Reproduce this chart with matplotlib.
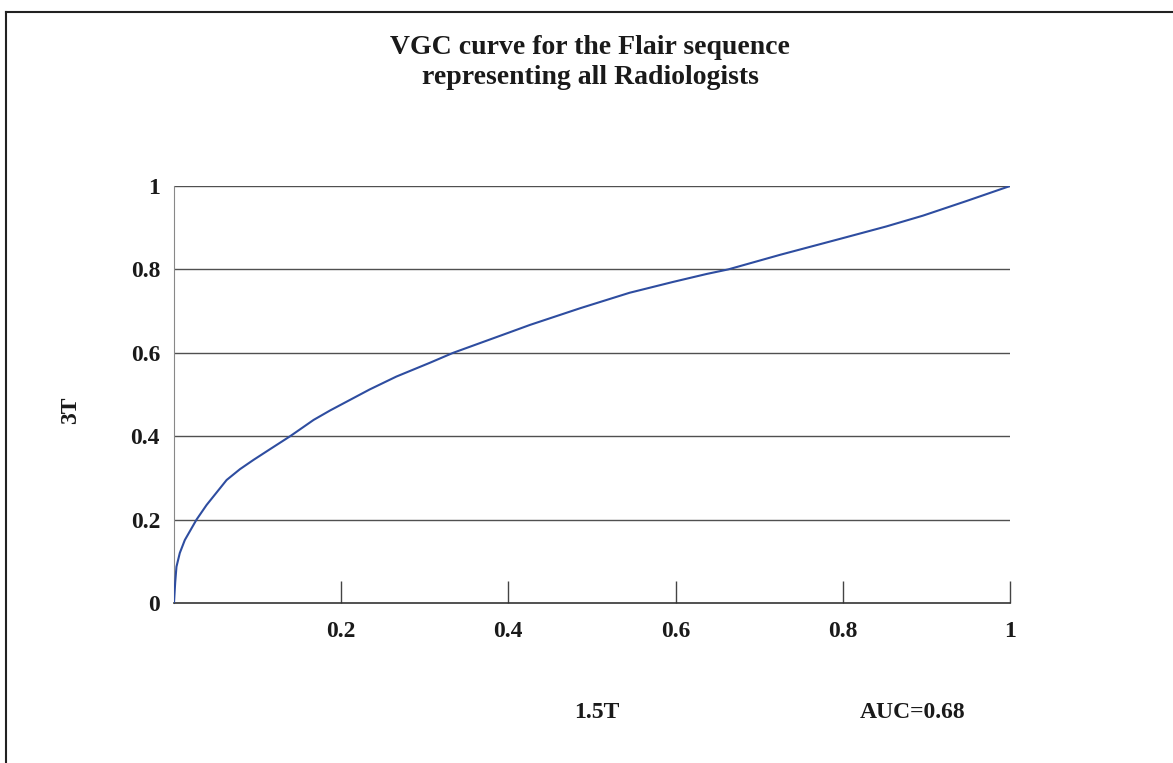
import matplotlib.pyplot as plt
from matplotlib.lines import Line2D

# VGC curve (x = 1.5T, y = 3T)
vgc_x = [0, 0.0015, 0.003, 0.007, 0.013, 0.027, 0.039, 0.047, 0.063, 0.079,
         0.095, 0.115, 0.139, 0.167, 0.187, 0.234, 0.266, 0.306, 0.334, 0.400,
         0.426, 0.486, 0.545, 0.597, 0.637, 0.663, 0.725, 0.800, 0.852, 0.896,
         0.948, 1.0]
vgc_y = [0, 0.05, 0.087, 0.12, 0.151, 0.2, 0.235, 0.255, 0.295, 0.321,
         0.343, 0.369, 0.4, 0.439, 0.462, 0.512, 0.543, 0.576, 0.600, 0.648,
         0.667, 0.707, 0.744, 0.770, 0.789, 0.800, 0.835, 0.875, 0.903, 0.929,
         0.964, 1.0]

x_ticks = [0.2, 0.4, 0.6, 0.8, 1.0]
x_labels = ['0.2', '0.4', '0.6', '0.8', '1']
y_ticks = [0, 0.2, 0.4, 0.6, 0.8, 1.0]
y_labels = ['0', '0.2', '0.4', '0.6', '0.8', '1']

title = 'VGC curve for the Flair sequence\nrepresenting all Radiologists'
auc_text = 'AUC=0.68'

plt.rcParams['font.family'] = ['Liberation Serif', 'DejaVu Serif']
plt.rcParams['font.weight'] = 'bold'

fig = plt.figure(figsize=(11.73, 7.63), dpi=100)
ax = fig.add_axes([0.1483, 0.2097, 0.8610 - 0.1483, 0.7562 - 0.2097])

ax.plot(vgc_x, vgc_y, color='#2e4da0', lw=1.5, zorder=3)

ax.set_xlim(0, 1)
ax.set_ylim(0, 1)
for v in y_ticks[1:]:
    ax.axhline(v, color='#505050', lw=1.0, zorder=1)

ax.set_xticks(x_ticks)
ax.set_xticklabels(x_labels)
ax.set_yticks(y_ticks)
ax.set_yticklabels(y_labels)
ax.tick_params(axis='x', direction='in', length=16, width=1.0, color='#444444',
               pad=13, labelsize=17)
ax.tick_params(axis='y', length=0, pad=10, labelsize=17)
for lab in ax.get_xticklabels() + ax.get_yticklabels():
    lab.set_fontweight('bold')
    lab.set_color('#1a1a1a')

ax.spines['top'].set_visible(False)
ax.spines['right'].set_visible(False)
ax.spines['left'].set_color('#888888')
ax.spines['bottom'].set_color('#333333')
ax.spines['bottom'].set_linewidth(1.2)

fig.text(0.503, 0.918, title, ha='center', va='center', fontsize=20,
         fontweight='bold', color='#1a1a1a', linespacing=1.3)
fig.text(0.06, 0.462, '3T', rotation=90, ha='center', va='center',
         fontsize=17, fontweight='bold', color='#1a1a1a')
fig.text(0.509, 0.066, '1.5T', ha='center', va='center', fontsize=17,
         fontweight='bold', color='#1a1a1a')
fig.text(0.778, 0.066, auc_text, ha='center', va='center', fontsize=17,
         fontweight='bold', color='#1a1a1a')

# outer frame (top and left edges visible in the reference)
fig.add_artist(Line2D([0.0055, 1.0], [1 - 11.5 / 763, 1 - 11.5 / 763],
                      transform=fig.transFigure, color='#222222', lw=1.5))
fig.add_artist(Line2D([0.0055, 0.0055], [0, 1 - 11.5 / 763],
                      transform=fig.transFigure, color='#222222', lw=1.5))

fig.savefig('out.png', dpi=100)
